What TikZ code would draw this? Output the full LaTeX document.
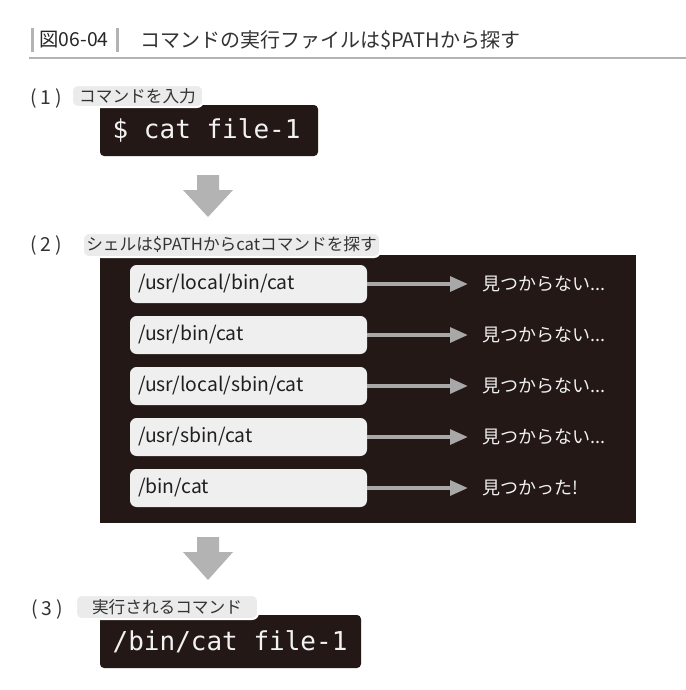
\documentclass[tikz,border=0pt]{standalone}
\usepackage{fontspec}
\setmainfont{Noto Sans CJK JP}
\newfontfamily\monof{DejaVu Sans Mono}
\usetikzlibrary{arrows.meta}
\definecolor{ink}{HTML}{231815}
\definecolor{bub}{HTML}{EBEBEB}
\definecolor{pbox}{HTML}{EFEFEF}
\definecolor{agray}{HTML}{A8A8A8}
\definecolor{bgray}{HTML}{B3B3B3}
\definecolor{txt}{HTML}{333333}
\definecolor{ltxt}{HTML}{F2F2F2}
\newcommand{\stepnum}[1]{(\kern3pt#1\kern3pt)}
\begin{document}
\begin{tikzpicture}[x=0.75pt,y=-0.75pt,
  cmdbox/.style={fill=ink, rounded corners=3pt, inner sep=0pt},
  cmdtext/.style={text=ltxt, font=\monof\fontsize{19.5}{22}\selectfont, inner sep=0pt, anchor=west},
  bubble/.style={fill=bub, draw=white, line width=1.5pt, rounded corners=4.5pt, inner sep=0pt,
     text=txt, font=\fontsize{12.5}{14}\selectfont},
  steplabel/.style={text=txt, font=\fontsize{14.5}{16}\selectfont, inner sep=0pt},
  pathbox/.style={fill=pbox, rounded corners=5pt, inner sep=0pt, minimum width=177.75pt, minimum height=28.5pt},
  pathtext/.style={text=black!88, font=\fontsize{14.5}{17}\selectfont, inner sep=0pt, anchor=west},
  restext/.style={text=ltxt, font=\fontsize{13.5}{16}\selectfont, inner sep=0pt, anchor=west},
  conn/.style={draw=agray, line width=3pt, -{Triangle[length=13.5pt,width=11pt]}},
  barline/.style={draw=bgray, line width=2.25pt}
]
\useasboundingbox (0,0) rectangle (686,690);
\fill[white] (0,0) rectangle (686,690);

% title
\draw[barline] (32,28) -- (32,52);
\draw[barline] (117,28) -- (117,52);
\node[text=black!85, font=\fontsize{14.5}{17}\selectfont, inner sep=0pt] (fig) at (74,40) {図06-04};
\node[text=txt, font=\fontsize{15}{18}\selectfont, inner sep=0pt, anchor=west] (title) at (140,40) {コマンドの実行ファイルは\$PATHから探す};
\draw[draw=bgray, line width=1.2pt] (29,58) -- (686,58);

% stage 1
\node[cmdbox, minimum width=163.5pt, minimum height=38.25pt] (c1) at (209,130.5) {};
\node[cmdtext] (c1t) at ([xshift=9.5pt]c1.west) {\$ cat file-1};
\node[bubble, minimum width=98.25pt, minimum height=16.5pt] (b1) at (137.5,96) {コマンドを入力};
\node[steplabel] (s1) at (46,98) {\stepnum{1}};

% block arrow 1
\fill[bgray] (197,175) -- (219,175) -- (219,190) -- (233,190) -- (208,217) -- (183,190) -- (197,190) -- cycle;

% stage 2
\node[fill=ink, inner sep=0pt, minimum width=402pt, minimum height=201pt] (big) at (368,389) {};
\node[bubble, minimum width=222.75pt, minimum height=18pt] (b2) at (231.5,245) {シェルは\$PATHからcatコマンドを探す};
\node[steplabel] (s2) at (46,245) {\stepnum{2}};

\foreach \i/\y/\p/\r in {1/284/{/usr/local/bin/cat}/{見つからない...},
                          2/335/{/usr/bin/cat}/{見つからない...},
                          3/386/{/usr/local/sbin/cat}/{見つからない...},
                          4/437/{/usr/sbin/cat}/{見つからない...},
                          5/488/{/bin/cat}/{見つかった!}}{
  \node[pathbox] (p\i) at (248.5,\y) {};
  \node[pathtext] (pt\i) at ([xshift=6pt]p\i.west) {\p};
  \node[restext] (r\i) at (482,\y) {\r};
  \draw[conn] (p\i.east) -- ([xshift=-10.5pt]r\i.west);
}

% block arrow 2
\fill[bgray] (197,537) -- (219,537) -- (219,552) -- (233,552) -- (208,580) -- (183,552) -- (197,552) -- cycle;

% stage 3
\node[cmdbox, minimum width=195.75pt, minimum height=39.75pt] (c3) at (230.5,641.5) {};
\node[cmdtext] (c3t) at ([xshift=9.5pt]c3.west) {/bin/cat file-1};
\node[bubble, minimum width=136.5pt, minimum height=18pt] (b3) at (167,607) {実行されるコマンド};
\node[steplabel] (s3) at (47,609) {\stepnum{3}};
\end{tikzpicture}
\end{document}
